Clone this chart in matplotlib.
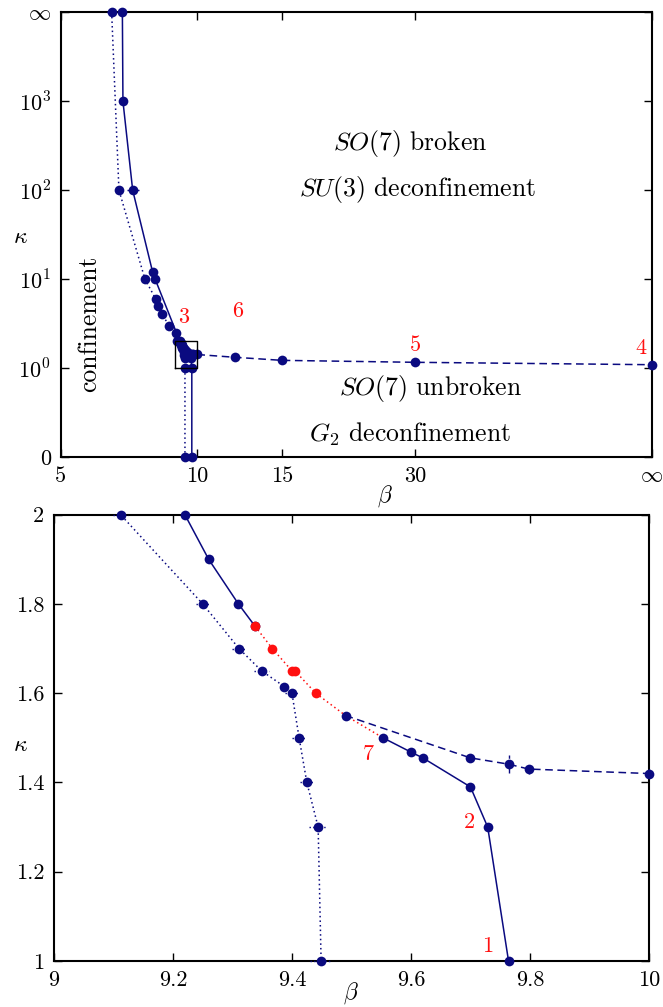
import numpy as np
import matplotlib
matplotlib.use("Agg")
from matplotlib import pyplot as plt

plt.rcParams['font.family'] = 'serif'
plt.rcParams['font.serif'] = ['cmr10']
plt.rcParams['mathtext.fontset'] = 'cm'
plt.rcParams['axes.formatter.use_mathtext'] = True

NAVY = '#0a0a80'
RED = '#ff1010'

# infinity is stored as a finite stand-in so the scales can handle it
BETA_INF = 1e7
KAPPA_INF = 1e4

# first transition line (dotted), from kappa = inf down to kappa = 0
beta_dot = [6.58, 6.83, 7.78, 8.20, 8.31, 8.47, 8.75, 9.04,
            9.112, 9.25, 9.311, 9.349, 9.387, 9.40, 9.412, 9.425, 9.444, 9.449, 9.449]
kappa_dot = [np.inf, 100, 10, 6, 5, 4, 3, 2.5,
             2.0, 1.80, 1.70, 1.65, 1.615, 1.60, 1.50, 1.40, 1.30, 1.0, 0]
xerr_dot = [0.17, 0, 0, 0, 0, 0, 0, 0,
            0.013, 0.011, 0.012, 0.012, 0, 0.012, 0.012, 0.012, 0.015, 0.019, 0]

# second transition line (solid), upper branch
beta_solid_hi = [6.95, 6.97, 7.32, 8.08, 8.18, 9.22, 9.26, 9.31, 9.338]
kappa_solid_hi = [np.inf, 1000, 100, 12, 10, 2.0, 1.90, 1.80, 1.75]
xerr_solid_hi = [0, 0, 0.22, 0, 0, 0, 0, 0, 0]

# second transition line (solid), lower branch
beta_solid_lo = [9.553, 9.60, 9.62, 9.70, 9.729, 9.764, 9.764]
kappa_solid_lo = [1.50, 1.468, 1.455, 1.39, 1.30, 1.0, 0]

# red section joining the two solid branches
beta_red = [9.338, 9.367, 9.40, 9.405, 9.44, 9.49, 9.553]
kappa_red = [1.75, 1.70, 1.65, 1.65, 1.60, 1.55, 1.50]
n_red_marked = 5

# dashed line towards beta = inf
beta_dash = [9.49, 9.70, 9.764, 9.798, 10.0, 12, 15, 30, np.inf]
kappa_dash = [1.55, 1.455, 1.441, 1.43, 1.42, 1.32, 1.22, 1.16, 1.09]
xerr_dash = [0, 0.004, 0, 0, 0, 0, 0, 0, 0]
yerr_dash = [0, 0, 0.02, 0.01, 0.01, 0, 0, 0, 0]

# zoomed region shown in the lower panel
zoom_beta = (9.0, 10.0)
zoom_kappa = (1.0, 2.0)

beta_ticks = [5, 10, 15, 30, np.inf]
beta_tick_labels = ['5', '10', '15', '30', r'$\infty$']
kappa_ticks = [0, 1, 10, 100, 1000, np.inf]
kappa_tick_labels = ['0', r'$10^0$', r'$10^1$', r'$10^2$', r'$10^3$', r'$\infty$']

zoom_beta_ticks = [9, 9.2, 9.4, 9.6, 9.8, 10]
zoom_beta_labels = ['9', '9.2', '9.4', '9.6', '9.8', '10']
zoom_kappa_ticks = [1, 1.2, 1.4, 1.6, 1.8, 2]
zoom_kappa_labels = ['1', '1.2', '1.4', '1.6', '1.8', '2']


def fin(v, big):
    v = np.asarray(v, dtype=float)
    return np.where(np.isinf(v), big, v)


def beta_fwd(b):
    b = np.asarray(b, dtype=float)
    return (b - 5.0) / (b + 11.7)


def beta_inv(u):
    u = np.clip(np.asarray(u, dtype=float), -10, 1 - 1e-9)
    return (5.0 + 11.7 * u) / (1.0 - u)


def kappa_fwd(k):
    k = np.asarray(k, dtype=float)
    return np.where(k < 1, k - 1.0, np.log10(np.maximum(k, 1.0)))


def kappa_inv(t):
    t = np.clip(np.asarray(t, dtype=float), -5, 20)
    return np.where(t < 0, t + 1.0, 10.0 ** t)


def style_axes(ax):
    for s in ax.spines.values():
        s.set_linewidth(1.5)
    ax.tick_params(direction='in', length=6, width=1.0, top=True, right=True,
                   labelsize=16, pad=7)


def series(ax, b, k, ls, color, xerr=None, yerr=None, err_ls='-', marked=None):
    """Line clipped to the axes, markers (and error bars) drawn whole."""
    b = fin(b, BETA_INF)
    k = fin(k, KAPPA_INF)
    ax.plot(b, k, ls=ls, color=color, lw=1.1, zorder=2)
    n = len(b) if marked is None else marked
    x0, x1 = ax.get_xlim()
    y0, y1 = ax.get_ylim()
    keep = np.zeros(len(b), dtype=bool)
    keep[:n] = True
    keep &= (b >= x0 - 1e-9) & (b <= x1 + 1e-9) & (k >= y0 - 1e-9) & (k <= y1 + 1e-9)
    xe = None if xerr is None else np.asarray(xerr)[keep]
    ye = None if yerr is None else np.asarray(yerr)[keep]
    eb = ax.errorbar(b[keep], k[keep], xerr=xe, yerr=ye, ls='none', marker='o',
                     ms=7, mew=0, color=color, capsize=3, elinewidth=1.0,
                     clip_on=False, zorder=3)
    for c in eb[2]:
        c.set_linestyle(err_ls)


def draw_series(ax, red_color):
    series(ax, beta_dot, kappa_dot, (0, (1, 2)), NAVY, xerr=xerr_dot, err_ls=':')
    series(ax, beta_solid_hi, kappa_solid_hi, '-', NAVY, xerr=xerr_solid_hi)
    series(ax, beta_red, kappa_red, (0, (1, 2)), red_color, marked=n_red_marked)
    series(ax, beta_solid_lo, kappa_solid_lo, '-', NAVY)
    series(ax, beta_dash, kappa_dash, (0, (5, 3)), NAVY,
           xerr=xerr_dash, yerr=yerr_dash, err_ls='--')


fig = plt.figure(figsize=(6.63, 10.07), dpi=100)

# upper panel: full phase diagram
ax1 = fig.add_axes([0.0913, 0.5462, 0.8921, 0.4416])
ax1.set_xscale('function', functions=(beta_fwd, beta_inv))
ax1.set_yscale('function', functions=(kappa_fwd, kappa_inv))
ax1.set_xlim(5, BETA_INF)
ax1.set_ylim(0, KAPPA_INF)
draw_series(ax1, NAVY)
ax1.set_xlim(5, BETA_INF)
ax1.set_ylim(0, KAPPA_INF)
ax1.set_xticks(fin(beta_ticks, BETA_INF))
ax1.set_xticklabels(beta_tick_labels)
ax1.set_yticks(fin(kappa_ticks, KAPPA_INF))
ax1.set_yticklabels(kappa_tick_labels)
ax1.minorticks_off()
style_axes(ax1)
ax1.set_xlabel(r'$\beta$', fontsize=17, va='center')
ax1.xaxis.set_label_coords(0.549, -0.088)
ax1.set_ylabel(r'$\kappa$', fontsize=17, rotation=0, va='center')
ax1.yaxis.set_label_coords(-0.068, 0.495)

ax1.plot([zoom_beta[0], zoom_beta[1], zoom_beta[1], zoom_beta[0], zoom_beta[0]],
         [zoom_kappa[0], zoom_kappa[0], zoom_kappa[1], zoom_kappa[1], zoom_kappa[0]],
         color='black', lw=1.0, zorder=5)

ax1.text(0.591, 0.704, r'$SO(7)$ broken', transform=ax1.transAxes,
         ha='center', va='center', fontsize=18.5)
ax1.text(0.603, 0.602, r'$SU(3)$ deconfinement', transform=ax1.transAxes,
         ha='center', va='center', fontsize=18.5)
ax1.text(0.626, 0.153, r'$SO(7)$ unbroken', transform=ax1.transAxes,
         ha='center', va='center', fontsize=18.5)
ax1.text(0.591, 0.052, r'$G_2$ deconfinement', transform=ax1.transAxes,
         ha='center', va='center', fontsize=18.5)
ax1.text(0.048, 0.299, 'confinement', transform=ax1.transAxes, rotation=90,
         ha='center', va='center', fontsize=18.5)

for txt, b, k in [('3', 9.41, 3.7), ('6', 12.16, 4.4), ('5', 30, 1.79), ('4', 886, 1.66)]:
    ax1.text(b, k, txt, color=RED, fontsize=16, ha='center', va='center')

# lower panel: zoom into the region where the lines meet
ax2 = fig.add_axes([0.0814, 0.0457, 0.8974, 0.4432])
ax2.set_xlim(*zoom_beta)
ax2.set_ylim(*zoom_kappa)
draw_series(ax2, RED)
ax2.set_xlim(*zoom_beta)
ax2.set_ylim(*zoom_kappa)
ax2.set_xticks(zoom_beta_ticks)
ax2.set_xticklabels(zoom_beta_labels)
ax2.set_yticks(zoom_kappa_ticks)
ax2.set_yticklabels(zoom_kappa_labels)
style_axes(ax2)
ax2.set_xlabel(r'$\beta$', fontsize=17, va='center')
ax2.xaxis.set_label_coords(0.4987, -0.072)
ax2.set_ylabel(r'$\kappa$', fontsize=17, rotation=0, va='center')
ax2.yaxis.set_label_coords(-0.057, 0.484)

for txt, b, k in [('7', 9.528, 1.464), ('2', 9.699, 1.311), ('1', 9.728, 1.034)]:
    ax2.text(b, k, txt, color=RED, fontsize=16, ha='center', va='center')

fig.savefig('out.png', dpi=100)
